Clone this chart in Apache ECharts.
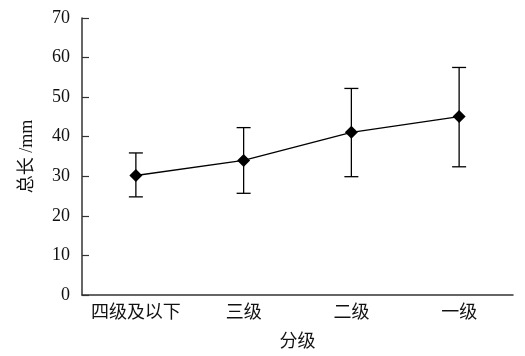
<!DOCTYPE html>
<html><head><meta charset="utf-8">
<script src="https://cdn.jsdelivr.net/npm/echarts@6/dist/echarts.min.js"></script>
<style>html,body{margin:0;padding:0;background:#fff}#c{width:525px;height:356px}</style>
</head><body><div id="c"></div>
<script>
var categories = ['四级及以下', '三级', '二级', '一级'];
var means = [30.2, 34.0, 41.1, 45.1];
var upper = [35.9, 42.3, 52.2, 57.5];
var lower = [24.8, 25.7, 29.9, 32.4];
var yTicks = [0, 10, 20, 30, 40, 50, 60, 70];

var FONT = "'Liberation Serif','Noto Sans CJK SC',serif";
var chart = echarts.init(document.getElementById('c'));
var errData = categories.map(function (c, i) { return [i, lower[i], upper[i]]; });
chart.setOption({
  animation: false,
  backgroundColor: '#fff',
  grid: { left: 82, right: 12, top: 18, bottom: 61 },
  xAxis: {
    type: 'category', data: categories, boundaryGap: true,
    name: '分级', nameLocation: 'middle', nameGap: 38,
    nameTextStyle: { fontFamily: FONT, fontSize: 18, color: '#111' },
    axisLine: { lineStyle: { color: '#333', width: 1.5 } },
    axisTick: { inside: true, length: 5, lineStyle: { color: '#333', width: 1.2 } },
    axisLabel: { interval: 0, fontFamily: FONT, fontSize: 18, color: '#111', margin: 9 }
  },
  yAxis: {
    type: 'value', min: yTicks[0], max: yTicks[yTicks.length - 1], interval: 10,
    name: '总长 /mm', nameLocation: 'middle', nameGap: 46, nameRotate: 90,
    nameTextStyle: { fontFamily: FONT, fontSize: 18, color: '#111' },
    splitLine: { show: false },
    axisLine: { show: true, lineStyle: { color: '#333', width: 1.5 } },
    axisTick: { show: true, inside: true, length: 7, lineStyle: { color: '#333', width: 1.2 } },
    axisLabel: { fontFamily: FONT, fontSize: 18, color: '#111', margin: 12 }
  },
  series: [
    {
      type: 'custom',
      data: errData,
      z: 1,
      renderItem: function (params, api) {
        var x = api.value(0);
        var lo = api.coord([x, api.value(1)]);
        var hi = api.coord([x, api.value(2)]);
        var hw = 7;
        var st = { stroke: '#000', lineWidth: 1.3 };
        return {
          type: 'group',
          children: [
            { type: 'line', shape: { x1: hi[0], y1: hi[1], x2: lo[0], y2: lo[1] }, style: st },
            { type: 'line', shape: { x1: hi[0] - hw, y1: hi[1], x2: hi[0] + hw, y2: hi[1] }, style: st },
            { type: 'line', shape: { x1: lo[0] - hw, y1: lo[1], x2: lo[0] + hw, y2: lo[1] }, style: st }
          ]
        };
      }
    },
    {
      type: 'line',
      data: means,
      z: 2,
      symbol: 'diamond',
      symbolSize: 13,
      itemStyle: { color: '#000' },
      lineStyle: { color: '#000', width: 1.3 }
    }
  ]
});
</script></body></html>
